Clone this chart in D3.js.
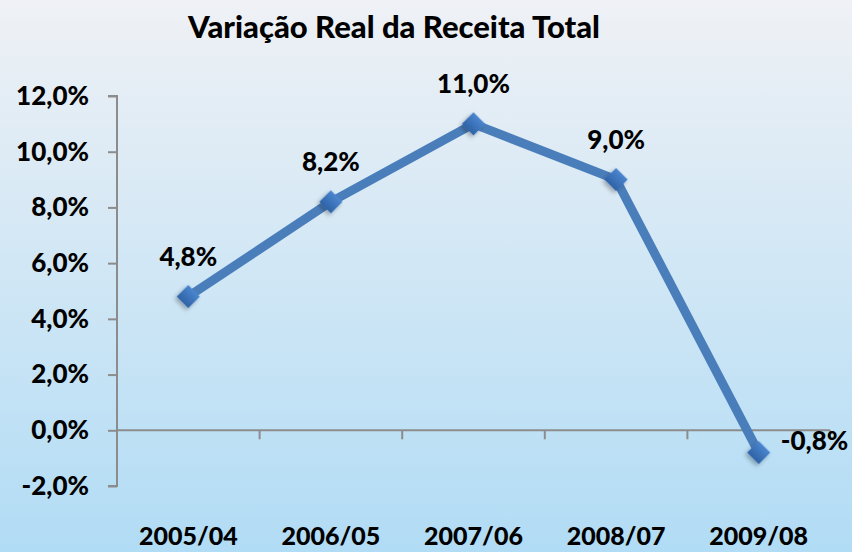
<!DOCTYPE html>
<html>
<head>
  <meta charset="utf-8">
  <title>Variação Real da Receita Total</title>
  <style>
    body { margin: 0; }
    text { font-family: Lato, "Open Sans", sans-serif; font-weight: 900; fill: #000; }
  </style>
  <script src="https://cdn.jsdelivr.net/npm/d3@7"></script>
</head>
<body>
<script>
// data
var categories = ["2005/04", "2006/05", "2007/06", "2008/07", "2009/08"];
var values = [4.8, 8.2, 11.0, 9.0, -0.8];
var yTicks = [-2, 0, 2, 4, 6, 8, 10, 12];

var W = 852, H = 552;
var margin = {top: 96, right: 22, bottom: 66, left: 117},
    width = W - margin.left - margin.right;

var fmt = function(v) { return v.toFixed(1).replace(".", ",") + "%"; };

var svg = d3.select("body").append("svg")
    .attr("width", W)
    .attr("height", H);

// background gradient
var defs = svg.append("defs");
var grad = defs.append("linearGradient")
    .attr("id", "bg")
    .attr("x1", 0).attr("y1", 0).attr("x2", 0).attr("y2", 1);
grad.append("stop").attr("offset", "0%").attr("stop-color", "#eff1f5");
grad.append("stop").attr("offset", "100%").attr("stop-color", "#b1dcf5");

var mgrad = defs.append("linearGradient")
    .attr("id", "mk")
    .attr("x1", 0).attr("y1", 0).attr("x2", 0).attr("y2", 1);
mgrad.append("stop").attr("offset", "0%").attr("stop-color", "#4a86cf");
mgrad.append("stop").attr("offset", "100%").attr("stop-color", "#2f62a6");

var shadow = defs.append("filter").attr("id", "sh")
    .attr("x", "-50%").attr("y", "-50%").attr("width", "200%").attr("height", "200%");
shadow.append("feDropShadow")
    .attr("dx", 0).attr("dy", 3).attr("stdDeviation", 2)
    .attr("flood-color", "#000").attr("flood-opacity", 0.3);

svg.append("rect")
    .attr("width", W).attr("height", H)
    .attr("fill", "url(#bg)");

// title
svg.append("text")
    .attr("x", 394)
    .attr("y", 38)
    .attr("text-anchor", "middle")
    .style("font-size", "31px")
    .text("Variação Real da Receita Total");

var g = svg.append("g")
    .attr("transform", "translate(" + margin.left + "," + margin.top + ")");

// scales
var x = d3.scaleBand()
    .domain(categories)
    .range([0, width]);
var y = d3.scaleLinear()
    .domain([-2, 12])
    .range([390, 0]);

// y axis
var yAxis = g.append("g")
    .call(d3.axisLeft(y).tickValues(yTicks).tickSize(9).tickPadding(19).tickFormat(fmt));
yAxis.selectAll("path, line").attr("stroke", "#8c8c8c").attr("stroke-width", 2);
yAxis.select(".domain").attr("d", "M-9," + y(-2) + "H0V" + y(12) + "H-9");
yAxis.selectAll("text")
    .style("font-size", "26px")
    .style("font-family", "Lato, sans-serif")
    .style("font-weight", "900")
    .attr("fill", "#000");

// x axis at zero
var xAxis = g.append("g")
    .attr("transform", "translate(0," + y(0) + ")")
    .call(d3.axisBottom(x).tickSize(0).tickFormat(""));
xAxis.select(".domain").attr("stroke", "#8c8c8c").attr("stroke-width", 2)
    .attr("d", "M0,0H" + width);
// category boundary ticks
g.append("g").selectAll("line")
    .data(categories)
    .enter().append("line")
    .attr("x1", function(d) { return x(d) + x.bandwidth(); })
    .attr("x2", function(d) { return x(d) + x.bandwidth(); })
    .attr("y1", y(0))
    .attr("y2", y(0) + 9)
    .attr("stroke", "#8c8c8c")
    .attr("stroke-width", 2);

// category labels at the bottom
g.append("g").selectAll("text")
    .data(categories)
    .enter().append("text")
    .attr("x", function(d) { return x(d) + x.bandwidth() / 2; })
    .attr("y", 449)
    .attr("text-anchor", "middle")
    .style("font-size", "25px")
    .text(function(d) { return d; });

// line
var line = d3.line()
    .x(function(d, i) { return x(categories[i]) + x.bandwidth() / 2; })
    .y(function(d) { return y(d); });

g.append("path")
    .datum(values)
    .attr("fill", "none")
    .attr("stroke", "#4a7ebb")
    .attr("stroke-width", 9)
    .attr("stroke-linejoin", "round")
    .attr("d", line);

// markers
g.append("g").selectAll("path")
    .data(values)
    .enter().append("path")
    .attr("d", d3.symbol().type(d3.symbolSquare).size(270))
    .attr("transform", function(d, i) {
        return "translate(" + (x(categories[i]) + x.bandwidth() / 2) + "," + y(d) + ") rotate(45)";
    })
    .attr("fill", "url(#mk)")
    .attr("filter", "url(#sh)");

// data labels
g.append("g").selectAll("text")
    .data(values)
    .enter().append("text")
    .attr("x", function(d, i) {
        var cx = x(categories[i]) + x.bandwidth() / 2;
        return d < 0 ? cx + 22 : cx;
    })
    .attr("y", function(d) { return d < 0 ? y(d) - 3 : y(d) - 31; })
    .attr("text-anchor", function(d) { return d < 0 ? "start" : "middle"; })
    .style("font-size", "26px")
    .text(fmt);
</script>
</body>
</html>
